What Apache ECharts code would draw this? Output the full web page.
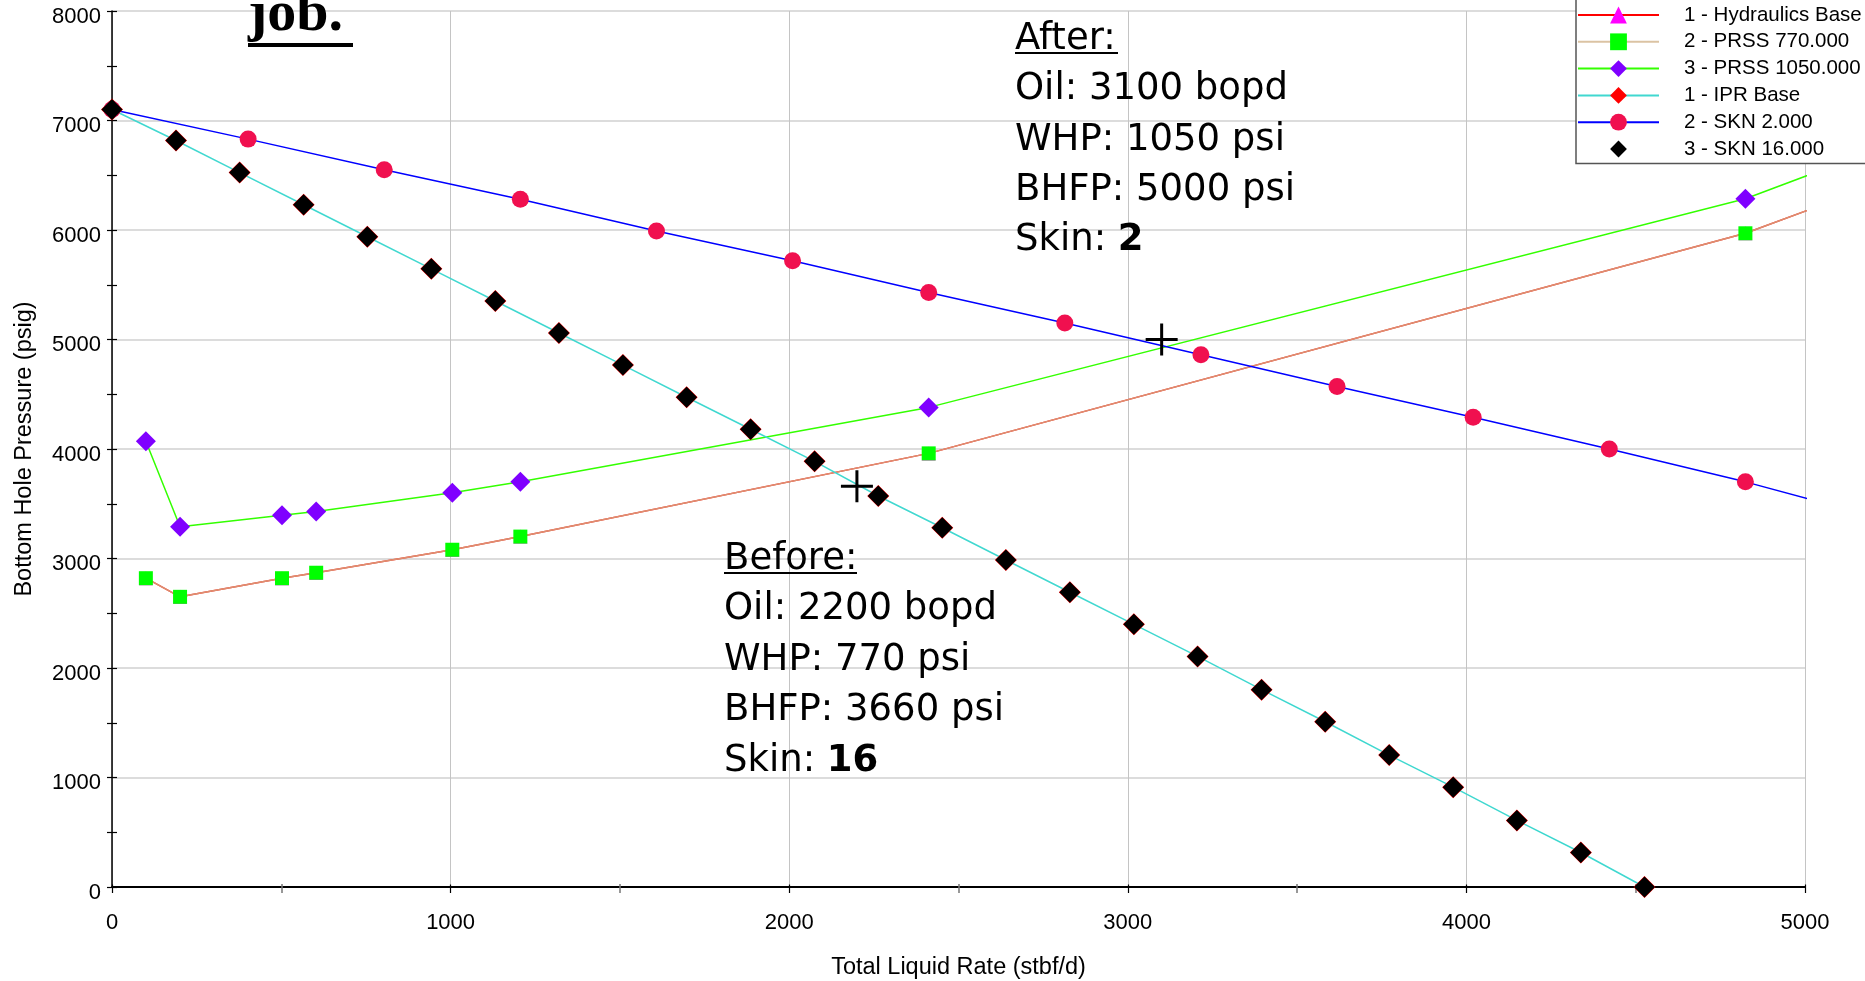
<!DOCTYPE html>
<html><head><meta charset="utf-8">
<script src="https://cdn.jsdelivr.net/npm/echarts@6/dist/echarts.min.js"></script>
<style>html,body{margin:0;padding:0;background:#fff}#c{width:1865px;height:981px}</style>
</head><body><div id="c"></div>
<script>
// ---- data ----
const vlpRates      = [100, 201, 502, 603, 1005, 1206, 2412, 4824, 6030];
const hydraulicsBase = [2820, 2650, 2820, 2870, 3080, 3200, 3960, 5970, 7350];
const prss770       = [2820, 2650, 2820, 2870, 3080, 3200, 3960, 5970, 7350];
const prss1050      = [4070, 3290, 3395, 3430, 3600, 3700, 4380, 6285, 7690];

const skn2Rates = [0, 402, 804, 1206, 1608, 2010, 2412, 2814, 3216, 3618, 4020, 4422, 4824, 5226];
const skn2      = [7100, 6830, 6550, 6280, 5990, 5720, 5430, 5150, 4860, 4570, 4290, 4000, 3700, 3365];

const skn16Rates = [0, 189, 377, 566, 754, 943, 1132, 1320, 1509, 1697, 1886, 2075, 2263, 2452, 2640, 2829, 3018, 3206, 3395, 3583, 3772, 3961, 4149, 4338, 4526];
const iprBase    = [7100, 6817, 6524, 6231, 5938, 5645, 5352, 5059, 4766, 4473, 4180, 3887, 3571, 3281, 2986, 2692, 2399, 2106, 1802, 1509, 1205, 912, 608, 315, 0];
const skn16      = [7100, 6817, 6524, 6231, 5938, 5645, 5352, 5059, 4766, 4473, 4180, 3887, 3571, 3281, 2986, 2692, 2399, 2106, 1802, 1509, 1205, 912, 608, 315, 0];

const opRates = [2200, 3100];
const opBhfp  = [3660, 5000];

const seriesNames = ['1 - Hydraulics Base', '2 - PRSS 770.000', '3 - PRSS 1050.000', '1 - IPR Base', '2 - SKN 2.000', '3 - SKN 16.000'];
const xRange = {min: 0, max: 5000, interval: 1000};
const yRange = {min: 0, max: 8000, interval: 1000};
const xTitle = 'Total Liquid Rate (stbf/d)';
const yTitle = 'Bottom Hole Pressure (psig)';

const afterLines  = ['After:', 'Oil: 3100 bopd', 'WHP: 1050 psi', 'BHFP: 5000 psi', 'Skin: {b|2}'];
const beforeLines = ['Before:', 'Oil: 2200 bopd', 'WHP: 770 psi', 'BHFP: 3660 psi', 'Skin: {b|16}'];

// ---- build ----
const zip = (xs, ys) => xs.map((x, i) => [x, ys[i]]);
const AX = '"Liberation Sans", Arial, sans-serif';
const ANN = '"DejaVu Sans", sans-serif';
const plain = v => String(v);

function lineSeries(name, data, lineColor, lineOpacity, symbol, symbolSize, symbolColor) {
  return {
    name, type: 'line', data, symbol, symbolSize, showAllSymbol: true,
    lineStyle: {color: lineColor, width: 1.5, opacity: lineOpacity},
    itemStyle: {color: symbolColor, borderWidth: 0, opacity: 1},
    emphasis: {disabled: true}, clip: true, z: 3
  };
}

function textBlock(lines, x, y0, step) {
  const els = [];
  lines.forEach((t, i) => {
    els.push({
      type: 'text', x: x, y: y0 + i * step, z: 50,
      style: {
        text: t, fill: '#000', fontSize: 37, fontFamily: ANN,
        align: 'left', verticalAlign: 'middle', textAlign: 'left', textVerticalAlign: 'middle',
        rich: {b: {fontSize: 37, fontFamily: ANN, fontWeight: 'bold', fill: '#000'}}
      }
    });
  });
  return els;
}

const chart = echarts.init(document.getElementById('c'), null, {renderer: 'canvas'});
const option = {
  animation: false,
  backgroundColor: '#fff',
  grid: {left: 112, right: 60, top: 11, bottom: 94, containLabel: false, outerBoundsMode: 'none'},
  legend: {
    data: seriesNames, orient: 'vertical', left: 1576, top: -2,
    padding: [6.5, 20, 4, 1], itemWidth: 81, itemHeight: 21, itemGap: 5.8,
    backgroundColor: '#fff', borderColor: '#555', borderWidth: 1.5, borderRadius: 0,
    textStyle: {fontSize: 20.5, fontFamily: AX, color: '#000', padding: [0, 0, 0, 20]},
    selectedMode: false, z: 20
  },
  xAxis: [{
    type: 'value', min: xRange.min, max: xRange.max, interval: xRange.interval,
    name: xTitle, nameLocation: 'middle', nameGap: 68.5, nameMoveOverlap: false,
    nameTextStyle: {fontSize: 23.5, fontFamily: AX, color: '#000'},
    axisLine: {show: true, onZero: false, lineStyle: {color: '#000', width: 1.8}},
    axisTick: {show: true, inside: false, length: 6, lineStyle: {color: '#000', width: 1.2}},
    minorTick: {show: true, splitNumber: 2, length: 6, lineStyle: {color: '#777', width: 1.5}},
    axisLabel: {fontSize: 22, fontFamily: AX, color: '#000', margin: 25, formatter: plain, showMinLabel: true, showMaxLabel: true},
    splitLine: {show: true, lineStyle: {color: '#c4c4c4', width: 1}},
    minorSplitLine: {show: false}
  }, {
    type: 'value', min: xRange.min, max: xRange.max, interval: xRange.interval, position: 'bottom', offset: 0,
    axisLine: {show: false}, axisLabel: {show: false}, splitLine: {show: false},
    axisTick: {show: true, inside: true, length: 2.5, lineStyle: {color: '#000', width: 1.2}},
    minorTick: {show: true, splitNumber: 2, length: 3, lineStyle: {color: '#777', width: 1.5}}
  }],
  yAxis: [{
    type: 'value', min: yRange.min, max: yRange.max, interval: yRange.interval,
    name: yTitle, nameLocation: 'middle', nameGap: 75, nameMoveOverlap: false,
    nameTextStyle: {fontSize: 23.5, fontFamily: AX, color: '#000'},
    axisLine: {show: true, onZero: false, lineStyle: {color: '#000', width: 1.5}},
    axisTick: {show: true, inside: false, length: 5, lineStyle: {color: '#000', width: 1.2}},
    minorTick: {show: true, splitNumber: 2, length: 5, lineStyle: {color: '#000', width: 1.2}},
    axisLabel: {fontSize: 22, fontFamily: AX, color: '#000', margin: 11, verticalAlign: 'top', lineHeight: 11, formatter: plain},
    splitLine: {show: true, lineStyle: {color: '#d0d0d0', width: 1.5}},
    minorSplitLine: {show: false}
  }, {
    type: 'value', min: yRange.min, max: yRange.max, interval: yRange.interval, position: 'left', offset: 0,
    axisLine: {show: false}, axisLabel: {show: false}, splitLine: {show: false},
    axisTick: {show: true, inside: true, length: 5, lineStyle: {color: '#000', width: 1.2}},
    minorTick: {show: true, splitNumber: 2, length: 5, lineStyle: {color: '#000', width: 1.2}}
  }],
  series: [
    lineSeries(seriesNames[0], zip(vlpRates, hydraulicsBase), '#ff0000', 1, 'triangle', 14, '#ff00ff'),
    lineSeries(seriesNames[1], zip(vlpRates, prss770), '#d2b48c', 0.8, 'rect', 14, '#00ff00'),
    lineSeries(seriesNames[2], zip(vlpRates, prss1050), '#33ff00', 1, 'diamond', 20, '#7f00ff'),
    lineSeries(seriesNames[3], zip(skn16Rates, iprBase), '#40d8d0', 1, 'diamond', 22, '#ff0000'),
    lineSeries(seriesNames[4], zip(skn2Rates, skn2), '#0000ff', 1, 'circle', 17, '#f0104f'),
    lineSeries(seriesNames[5], zip(skn16Rates, skn16), '#000000', 0, 'diamond', 21, '#000000'),
    {
      name: 'operating points', type: 'scatter', data: zip(opRates, opBhfp),
      symbol: 'path://M14.5,0h3v32h-3z M0,14.5h32v3h-32z', symbolSize: 32,
      itemStyle: {color: '#000', opacity: 1}, z: 4, emphasis: {disabled: true}
    }
  ],
  graphic: {elements: [
    {type: 'text', x: 248, y: 15, z: 50, style: {text: 'job.', fill: '#000', fontSize: 58, fontWeight: 'bold', fontFamily: '"Liberation Serif", serif', align: 'left', verticalAlign: 'middle', textAlign: 'left', textVerticalAlign: 'middle'}},
    {type: 'line', z: 50, shape: {x1: 248, y1: 45, x2: 353, y2: 45}, style: {stroke: '#000', lineWidth: 4}},
    ...textBlock(afterLines, 1015, 39.2, 50.4),
    {type: 'line', z: 50, shape: {x1: 1015, y1: 53, x2: 1118, y2: 53}, style: {stroke: '#000', lineWidth: 2}},
    ...textBlock(beforeLines, 724, 559, 50.6),
    {type: 'line', z: 50, shape: {x1: 724, y1: 573, x2: 857, y2: 573}, style: {stroke: '#000', lineWidth: 2}}
  ]}
};
chart.setOption(option);
</script></body></html>
